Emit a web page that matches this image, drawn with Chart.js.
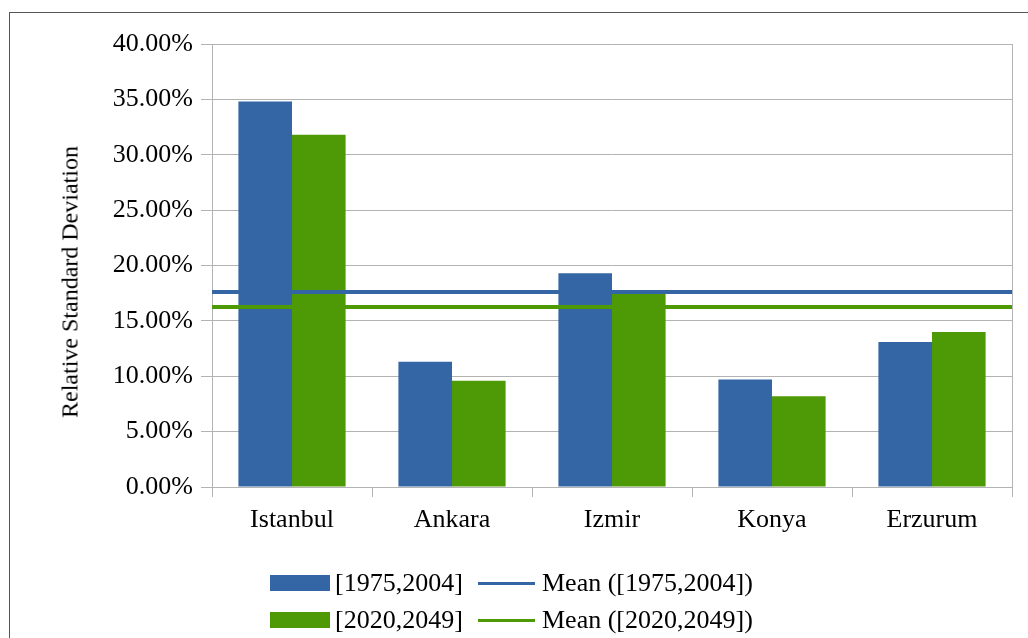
<!DOCTYPE html>
<html>
<head>
<meta charset="utf-8">
<script src="https://cdn.jsdelivr.net/npm/chart.js@4"></script>
<style>
  html, body { margin: 0; padding: 0; width: 1028px; height: 638px; overflow: hidden; background: #fff; font-family: 'Liberation Serif', serif; }
  #frame { position: absolute; left: 9px; top: 12px; width: 1100px; height: 700px; border: 1px solid #555; }
  .layer { position: absolute; left: 0; top: 0; width: 1028px; height: 638px; }
  #ytitle { position: absolute; left: 70px; top: 282px; transform: translate(-50%, -50%) rotate(-90deg); font-size: 24px; white-space: nowrap; color: #000; }
  .leg { position: absolute; font-size: 26px; color: #000; white-space: nowrap; line-height: 30px; }
  .leg i { position: absolute; display: block; }
</style>
</head>
<body>
<div id="frame"></div>
<div class="layer"><canvas id="bars_chart" width="1028" height="638"></canvas></div>
<div class="layer"><canvas id="means_chart" width="1028" height="638"></canvas></div>
<div id="ytitle">Relative Standard Deviation</div>
<div id="legend"></div>
<script>
var cities = ['Istanbul', 'Ankara', 'Izmir', 'Konya', 'Erzurum'];
var rsd1975 = [34.8, 11.3, 19.3, 9.7, 13.1];
var rsd2020 = [31.8, 9.6, 17.7, 8.2, 14.0];
var mean1975 = 17.6;
var mean2020 = 16.25;
var yTicks = [0, 5, 10, 15, 20, 25, 30, 35, 40];

var blue = '#3465a4';
var green = '#4e9a06';
var gridColor = '#b3b3b3';

// both charts share the same plot box
var plotPad = { left: 212, top: 44, right: 16, bottom: 151 };

var rightBorder = {
  id: 'rightBorder',
  beforeDatasetsDraw: function (chart) {
    var a = chart.chartArea, c = chart.ctx;
    c.save();
    c.strokeStyle = gridColor;
    c.lineWidth = 1;
    c.beginPath();
    c.moveTo(a.right + 0.5, a.top);
    c.lineTo(a.right + 0.5, a.bottom);
    c.stroke();
    c.restore();
  }
};

var barsChart = new Chart(document.getElementById('bars_chart').getContext('2d'), {
  type: 'bar',
  data: {
    labels: cities,
    datasets: [{
      label: '[1975,2004]',
      data: rsd1975,
      backgroundColor: blue
    }, {
      label: '[2020,2049]',
      data: rsd2020,
      backgroundColor: green
    }]
  },
  options: {
    responsive: false,
    animation: false,
    layout: { padding: { top: plotPad.top, right: plotPad.right, left: 0, bottom: 0 } },
    categoryPercentage: 0.67,
    barPercentage: 1.0,
    plugins: { legend: { display: false }, tooltip: { enabled: false } },
    scales: {
      x: {
        offset: true,
        grid: { drawOnChartArea: false, offset: true, tickLength: 10, color: gridColor },
        border: { color: gridColor },
        ticks: { color: '#000', padding: 8, font: { family: 'Liberation Serif', size: 26 } },
        afterFit: function (scale) { scale.height = plotPad.bottom; }
      },
      y: {
        min: yTicks[0],
        max: yTicks[yTicks.length - 1],
        afterBuildTicks: function (scale) {
          scale.ticks = yTicks.map(function (v) { return {value: v}; });
        },
        grid: { color: gridColor, tickLength: 11 },
        border: { color: gridColor },
        ticks: {
          color: '#000',
          padding: 8,
          font: { family: 'Liberation Serif', size: 26 },
          callback: function (v) { return v.toFixed(2) + '%'; }
        },
        afterFit: function (scale) { scale.width = plotPad.left; }
      }
    }
  },
  plugins: [rightBorder]
});

// mean lines run across the whole plot width, drawn on a transparent chart on top
function meanLine(v) {
  return [{x: -0.5, y: v}, {x: cities.length - 0.5, y: v}];
}

var meansChart = new Chart(document.getElementById('means_chart').getContext('2d'), {
  type: 'line',
  data: {
    datasets: [{
      label: 'Mean ([1975,2004])',
      data: meanLine(mean1975),
      borderColor: blue,
      borderWidth: 4,
      pointRadius: 0
    }, {
      label: 'Mean ([2020,2049])',
      data: meanLine(mean2020),
      borderColor: green,
      borderWidth: 4,
      pointRadius: 0
    }]
  },
  options: {
    responsive: false,
    animation: false,
    layout: { padding: plotPad },
    plugins: { legend: { display: false }, tooltip: { enabled: false } },
    scales: {
      x: { type: 'linear', display: false, min: -0.5, max: cities.length - 0.5 },
      y: { display: false, min: yTicks[0], max: yTicks[yTicks.length - 1] }
    }
  }
});

// legend in two rows: bars on the left, mean lines on the right
var legendSpots = [
  {d: barsChart.data.datasets[0], line: false, left: 270, top: 583},
  {d: meansChart.data.datasets[0], line: true, left: 478, top: 583},
  {d: barsChart.data.datasets[1], line: false, left: 270, top: 620},
  {d: meansChart.data.datasets[1], line: true, left: 478, top: 620}
];
var legendBox = document.getElementById('legend');
legendSpots.forEach(function (s) {
  var item = document.createElement('div');
  item.className = 'leg';
  item.style.left = s.left + 'px';
  item.style.top = (s.top - 15) + 'px';
  item.style.paddingLeft = (s.line ? 64 : 65) + 'px';
  var mark = document.createElement('i');
  mark.style.left = '0px';
  if (s.line) {
    mark.style.width = '57px';
    mark.style.height = '3px';
    mark.style.top = '14px';
    mark.style.background = s.d.borderColor;
  } else {
    mark.style.width = '60px';
    mark.style.height = '16px';
    mark.style.top = '7px';
    mark.style.background = s.d.backgroundColor;
  }
  item.appendChild(mark);
  item.appendChild(document.createTextNode(s.d.label));
  legendBox.appendChild(item);
});
</script>
</body>
</html>
